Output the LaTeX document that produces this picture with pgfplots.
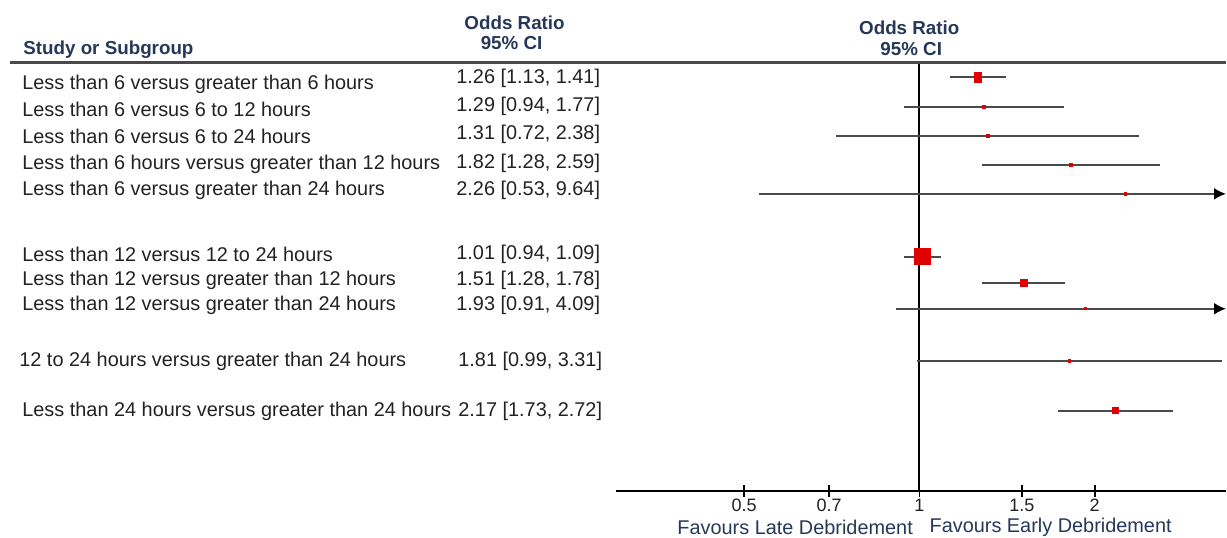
\documentclass[border=0pt]{standalone}
\usepackage{pgfplots}
\pgfplotsset{compat=1.18}
\usepackage{fontspec}
\setmainfont{Liberation Sans}
\usetikzlibrary{arrows.meta}
\definecolor{hdr}{HTML}{26385A}
\definecolor{cil}{HTML}{4A4A4A}
\definecolor{sq}{HTML}{E00000}
\definecolor{txt}{HTML}{222222}
\newcommand{\lab}{\fontsize{9.95}{12}\selectfont}
\newcommand{\hd}{\fontsize{9.4}{11}\selectfont\bfseries}
\begin{document}
\begin{tikzpicture}
\begin{axis}[
  at={(0,0)}, anchor=south west,
  scale only axis, width=305pt, height=214.15pt,
  xmode=log, xmin=0.302, xmax=3.36,
  ymin=-491, ymax=-62.7,
  axis x line*=bottom, axis y line=none,
  x axis line style={black, line width=1pt},
  xtick={0.5,0.7,1,1.5,2}, xticklabels={0.5,0.7,1,1.5,2},
  minor xtick={},
  tick align=center, major tick length=6pt,
  tick style={black, line width=0.8pt},
  xticklabel style={font=\fontsize{9}{10}\selectfont, text=txt, inner sep=1pt},
  clip=true,
]
% line of no effect
\addplot[black, line width=1pt] coordinates {(1,-491) (1,-62.7)};
% confidence intervals
\addplot[cil, line width=1pt] coordinates {(1.13,-77) (1.41,-77)};
\addplot[cil, line width=1pt] coordinates {(0.94,-107) (1.77,-107)};
\addplot[cil, line width=1pt] coordinates {(0.72,-136) (2.38,-136)};
\addplot[cil, line width=1pt] coordinates {(1.28,-165) (2.59,-165)};
\addplot[cil, line width=1pt, -{Latex[length=6pt,width=6pt,color=black]}] coordinates {(0.53,-194) (3.36,-194)};
\addplot[cil, line width=1pt] coordinates {(0.94,-257) (1.09,-257)};
\addplot[cil, line width=1pt] coordinates {(1.28,-283) (1.78,-283)};
\addplot[cil, line width=1pt, -{Latex[length=6pt,width=6pt,color=black]}] coordinates {(0.91,-309) (3.36,-309)};
\addplot[cil, line width=1pt] coordinates {(0.99,-361) (3.31,-361)};
\addplot[cil, line width=1pt] coordinates {(1.73,-411) (2.72,-411)};
% point estimates
\addplot[only marks, mark=square*, color=sq, mark size=2.5pt, mark options={xscale=0.65}] coordinates {(1.26,-77)};
\addplot[only marks, mark=square*, color=sq, mark size=0.8pt] coordinates {(1.29,-107)};
\addplot[only marks, mark=square*, color=sq, mark size=0.8pt] coordinates {(1.31,-136)};
\addplot[only marks, mark=square*, color=sq, mark size=0.7pt] coordinates {(1.82,-165)};
\addplot[only marks, mark=square*, color=sq, mark size=0.6pt] coordinates {(2.26,-194)};
\addplot[only marks, mark=square*, color=sq, mark size=4pt] coordinates {(1.01,-257)};
\addplot[only marks, mark=square*, color=sq, mark size=1.7pt] coordinates {(1.51,-283)};
\addplot[only marks, mark=square*, color=sq, mark size=0.5pt] coordinates {(1.93,-309)};
\addplot[only marks, mark=square*, color=sq, mark size=0.6pt] coordinates {(1.81,-361)};
\addplot[only marks, mark=square*, color=sq, mark size=1.5pt] coordinates {(2.17,-411)};
\end{axis}
\begin{scope}[x=0.5pt, y=-0.5pt, shift={(-617,-491)}]
\path[use as bounding box] (0,0) rectangle (1227,538);
\draw[cil, line width=1.2pt] (10,62.7) -- (1227,62.7);
\node[anchor=west, text=hdr, font=\hd, inner sep=0pt] at (23,50) {Study or Subgroup};
\node[text=hdr, font=\hd, inner sep=0pt, align=center] at (515,23) {Odds Ratio};
\node[text=hdr, font=\hd, inner sep=0pt] at (512,43) {95\% CI};
\node[text=hdr, font=\hd, inner sep=0pt] at (910,28) {Odds Ratio};
\node[text=hdr, font=\hd, inner sep=0pt] at (912,49) {95\% CI};
% row labels
\begin{scope}[every node/.style={anchor=west, text=txt, font=\lab, inner sep=0pt}]
\node at (22,84) {Less than 6 versus greater than 6 hours};
\node at (22,109) {Less than 6 versus 6 to 12 hours};
\node at (22,136) {Less than 6 versus 6 to 24 hours};
\node at (22,164) {Less than 6 hours versus greater than 12 hours};
\node at (22,191) {Less than 6 versus greater than 24 hours};
\node at (22,255) {Less than 12 versus 12 to 24 hours};
\node at (22,281) {Less than 12 versus greater than 12 hours};
\node at (22,306) {Less than 12 versus greater than 24 hours};
\node at (19,362) {12 to 24 hours versus greater than 24 hours};
\node at (22,412) {Less than 24 hours versus greater than 24 hours};
\end{scope}
\begin{scope}[every node/.style={anchor=east, text=txt, font=\lab, inner sep=0pt}]
\node at (601,78) {1.26 [1.13, 1.41]};
\node at (601,106) {1.29 [0.94, 1.77]};
\node at (601,134) {1.31 [0.72, 2.38]};
\node at (601,163) {1.82 [1.28, 2.59]};
\node at (601,191) {2.26 [0.53, 9.64]};
\node at (601,255) {1.01 [0.94, 1.09]};
\node at (601,281) {1.51 [1.28, 1.78]};
\node at (601,306) {1.93 [0.91, 4.09]};
\node at (603,362) {1.81 [0.99, 3.31]};
\node at (603,412) {2.17 [1.73, 2.72]};
\end{scope}
\node[anchor=east, text=hdr, font=\lab, inner sep=0pt] at (914,528) {Favours Late Debridement};
\node[anchor=west, text=hdr, font=\lab, inner sep=0pt] at (930,528) {Favours Early Debridement};
\end{scope}
\end{tikzpicture}
\end{document}
